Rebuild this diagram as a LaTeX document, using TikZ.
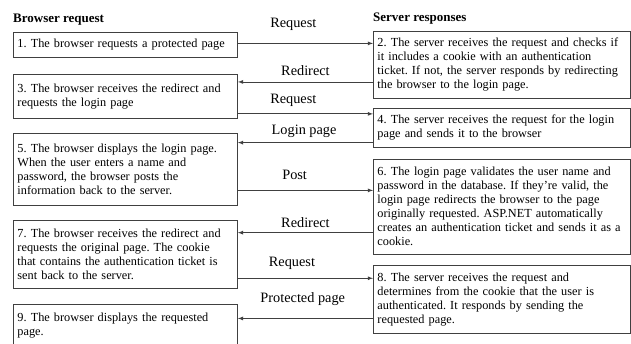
\documentclass[tikz,border=0pt]{standalone}
\usepackage{fontspec}
\setmainfont{Liberation Serif}
\frenchspacing
\usetikzlibrary{arrows, calc, positioning}
\tikzstyle{leftbox} = [rectangle, draw=black!75, line width=0.9pt, text width=216pt, inner xsep=4pt, inner ysep=0pt, align=left, font=\fontsize{12.3}{14}\selectfont, anchor=north west]
\tikzstyle{rightbox} = [leftbox, text width=249pt]
\tikzstyle{head} = [font=\fontsize{13}{15}\selectfont\bfseries, inner sep=0pt]
\tikzstyle{msg} = [font=\fontsize{14.3}{16}\selectfont, inner sep=0pt]
\tikzstyle{arrow} = [->, >=latex, line width=0.8pt, draw=black!75]

\begin{document}
\begin{tikzpicture}
\useasboundingbox (0,0) rectangle (631pt,-343pt);

% browser side
\node (b1) [leftbox, minimum height=25pt] at (13pt,-32pt) {1. The browser requests a protected page};
\node (b3) [leftbox, minimum height=44pt, below=16pt of b1.south west, anchor=north west] {3. The browser receives the redirect and\\requests the login page};
\node (b5) [leftbox, minimum height=72pt, below=14pt of b3.south west, anchor=north west] {5. The browser displays the login page.\\When the user enters a name and\\password, the browser posts the\\information back to the server.};
\node (b7) [leftbox, minimum height=68pt, below=14pt of b5.south west, anchor=north west] {7. The browser receives the redirect and\\requests the original page. The cookie\\that contains the authentication ticket is\\sent back to the server.};
\node (b9) [leftbox, minimum height=43pt, below=15pt of b7.south west, anchor=north west] {9. The browser displays the requested\\page.};

% server side
\node (b2) [rightbox, minimum height=67pt] at (373pt,-31pt) {2. The server receives the request and checks if\\it includes a cookie with an authentication\\ticket. If not, the server responds by redirecting\\the browser to the login page.};
\node (b4) [rightbox, minimum height=39pt, below=9pt of b2.south west, anchor=north west] {4. The server receives the request for the login\\page and sends it to the browser};
\node (b6) [rightbox, minimum height=95pt, below=11pt of b4.south west, anchor=north west] {6. The login page validates the user name and\\password in the database. If they’re valid, the\\login page redirects the browser to the page\\originally requested. ASP.NET automatically\\creates an authentication ticket and sends it as a\\cookie.};
\node (b8) [rightbox, minimum height=68pt, below=10pt of b6.south west, anchor=north west] {8. The server receives the request and\\determines from the cookie that the user is\\authenticated. It responds by sending the\\requested page.};

\node (hbrowser) [head, above right=7pt and 0pt of b1.north west] {Browser request};
\node (hserver) [head, above right=7pt and 0pt of b2.north west] {Server responses};

% messages
\coordinate (m1) at ($(b1.north east)!.44!(b1.south east)$);
\coordinate (m2) at ($(b2.north west)!.75!(b2.south west)$);
\coordinate (m3) at ($(b3.north east)!.89!(b3.south east)$);
\coordinate (m4) at ($(b4.north west)!.87!(b4.south west)$);
\coordinate (m5) at ($(b5.north east)!.79!(b5.south east)$);
\coordinate (m6) at ($(b6.north west)!.77!(b6.south west)$);
\coordinate (m7) at ($(b7.north east)!.85!(b7.south east)$);
\coordinate (m8) at ($(b8.north west)!.78!(b8.south west)$);

\draw [arrow] (m1) -- (m1 -| b2.west) node[msg, pos=.41, above=12pt] {Request};
\draw [arrow] (m2) -- (m2 -| b3.east) node[msg, pos=.5, above=6pt] {Redirect};
\draw [arrow] (m3) -- (m3 -| b4.west) node[msg, pos=.41, above=7pt] {Request};
\draw [arrow] (m4) -- (m4 -| b5.east) node[msg, pos=.51, above=5pt] {Login page};
\draw [arrow] (m5) -- (m5 -| b6.west) node[msg, pos=.42, above=10pt] {Post};
\draw [arrow] (m6) -- (m6 -| b7.east) node[msg, pos=.5, above=5pt] {Redirect};
\draw [arrow] (m7) -- (m7 -| b8.west) node[msg, pos=.40, above=8pt] {Request};
\draw [arrow] (m8) -- (m8 -| b9.east) node[msg, pos=.52, above=12pt] {Protected page};

\end{tikzpicture}
\end{document}
